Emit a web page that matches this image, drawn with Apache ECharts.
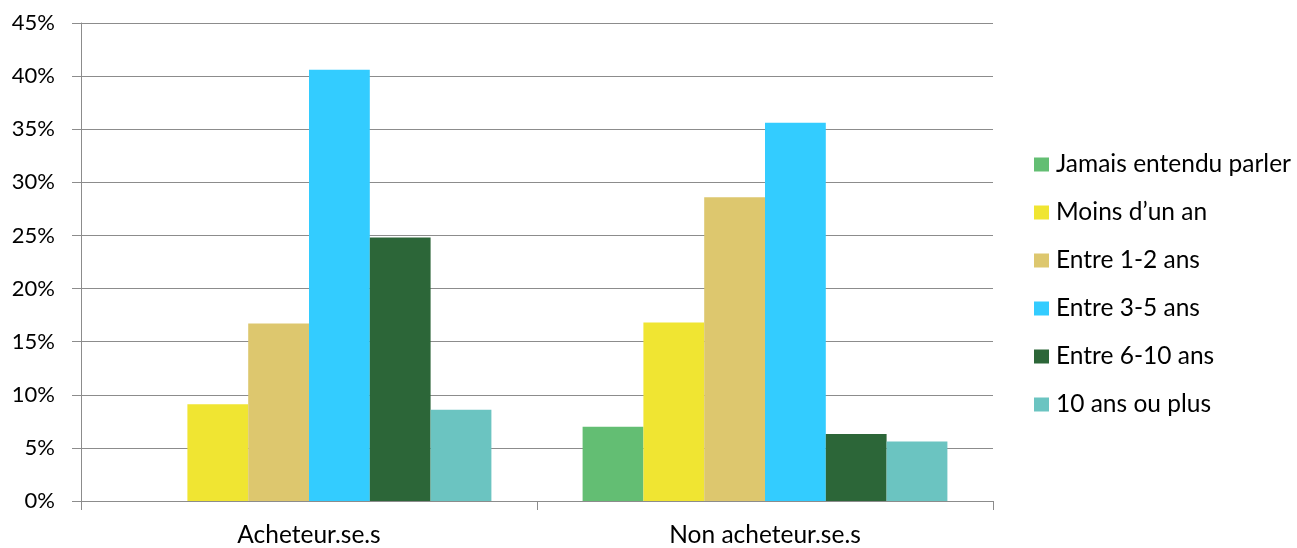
<!DOCTYPE html>
<html>
<head>
<meta charset="utf-8">
<script src="https://cdn.jsdelivr.net/npm/echarts@6/dist/echarts.min.js"></script>
<style>
html,body{margin:0;padding:0;background:#fff;}
#chart{width:1297px;height:548px;}
</style>
</head>
<body>
<div id="chart"></div>
<script>
const categories = ["Acheteur.se.s", "Non acheteur.se.s"];
const seriesNames = ["Jamais entendu parler", "Moins d\u2019un an", "Entre 1-2 ans", "Entre 3-5 ans", "Entre 6-10 ans", "10 ans ou plus"];
const jamais = [0, 7.0];
const moins = [9.1, 16.8];
const entre12 = [16.7, 28.6];
const entre35 = [40.6, 35.6];
const entre610 = [24.8, 6.3];
const dixPlus = [8.6, 5.6];
const yTicks = [0, 5, 10, 15, 20, 25, 30, 35, 40, 45];
const colors = ["#63BE73", "#F0E532", "#DDC76E", "#33CCFF", "#2C6638", "#6BC4C1"];

const values = [jamais, moins, entre12, entre35, entre610, dixPlus];
const FONT = "Lato";
const chart = echarts.init(document.getElementById('chart'), null, {renderer: 'canvas'});
chart.setOption({
  animation: false,
  color: colors,
  grid: {left: 81, right: 304, top: 23, bottom: 45, containLabel: false},
  legend: {
    orient: 'vertical',
    left: 1034,
    top: 152,
    padding: 0,
    itemWidth: 15,
    itemHeight: 14,
    itemGap: 23,
    icon: 'rect',
    textStyle: {fontFamily: FONT, fontSize: 24.5, color: '#000', lineHeight: 24, padding: [0,0,0,2]},
    data: seriesNames
  },
  xAxis: {
    type: 'category',
    data: categories,
    axisLine: {show: true, lineStyle: {color: '#8C8C8C', width: 1}},
    axisTick: {show: true, length: 9, lineStyle: {color: '#8C8C8C'}},
    axisLabel: {fontFamily: FONT, fontSize: 24.5, color: '#000', margin: 22},
    splitLine: {show: false}
  },
  yAxis: {
    type: 'value',
    min: 0,
    max: 45,
    interval: 5,
    axisLine: {show: true, lineStyle: {color: '#8C8C8C', width: 1}},
    axisTick: {show: true, length: 9, lineStyle: {color: '#8C8C8C'}},
    axisLabel: {fontFamily: FONT, fontSize: 22, color: '#000', margin: 26,
      formatter: function(v){ return yTicks.indexOf(v) >= 0 ? v + '%' : ''; }},
    splitLine: {show: true, lineStyle: {color: '#8C8C8C', width: 1}}
  },
  series: seriesNames.map(function(name, i){
    return {
      name: name,
      type: 'bar',
      data: values[i],
      barGap: '0%',
      barCategoryGap: '20%',
      itemStyle: {color: colors[i]}
    };
  })
});
</script>
</body>
</html>
